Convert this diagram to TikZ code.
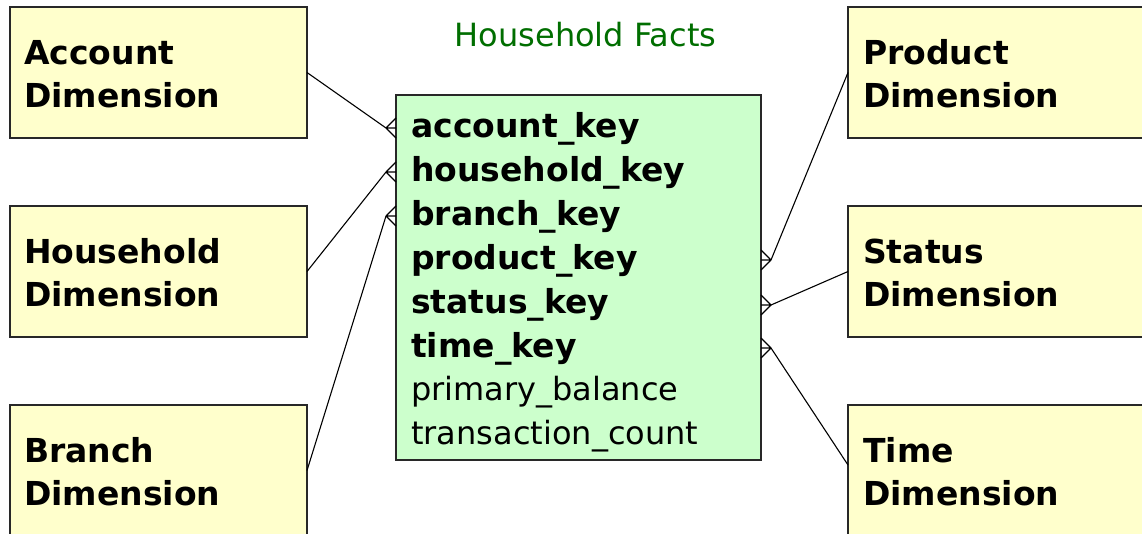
\documentclass[tikz,border=0pt]{standalone}
\usepackage{fontspec}
\setmainfont{DejaVu Sans}
\definecolor{dimfill}{RGB}{255,255,204}
\definecolor{factfill}{RGB}{204,255,204}
\definecolor{boxline}{RGB}{40,40,40}
\definecolor{titlegreen}{RGB}{0,110,0}
\tikzset{
  dimbox/.style={draw=boxline, line width=1.4pt, fill=dimfill, anchor=north west,
    minimum width=297pt, minimum height=131pt, inner sep=0pt, outer sep=0pt},
  factbox/.style={draw=boxline, line width=1.4pt, fill=factfill, anchor=north west,
    minimum width=365pt, minimum height=365pt, inner sep=0pt, outer sep=0pt},
  dimtext/.style={anchor=base west, inner sep=0pt, font=\fontsize{33}{40}\selectfont\bfseries},
  keytext/.style={anchor=base west, inner sep=0pt, font=\fontsize{33}{40}\selectfont\bfseries},
  attrtext/.style={anchor=base west, inner sep=0pt, font=\fontsize{32}{40}\selectfont},
  link/.style={draw=black, line width=1.1pt},
  foot/.style={draw=black, line width=1.3pt},
}
\begin{document}
\begin{tikzpicture}[x=1pt, y=-1pt]
\useasboundingbox (0,0) rectangle (1142,533);
\fill[white] (0,0) rectangle (1142,533);

% title
\node[anchor=base, inner sep=0pt, text=titlegreen, font=\fontsize{32}{40}\selectfont] (title) at (585.5,46) {Household Facts};

% dimension boxes
\node[dimbox] (acc) at (10,7) {};
\node[dimbox] (hh) at (10,206) {};
\node[dimbox] (br) at (10,405) {};
\node[dimbox] (prod) at (848,7) {};
\node[dimbox] (stat) at (848,206) {};
\node[dimbox] (time) at (848,405) {};

\node[dimtext] (acc1) at (24,64) {Account};
\node[dimtext] (acc2) at (24,107) {Dimension};
\node[dimtext] (hh1) at (24,263) {Household};
\node[dimtext] (hh2) at (24,306) {Dimension};
\node[dimtext] (br1) at (24,462) {Branch};
\node[dimtext] (br2) at (24,505) {Dimension};
\node[dimtext] (prod1) at (863,64) {Product};
\node[dimtext] (prod2) at (863,107) {Dimension};
\node[dimtext] (stat1) at (863,263) {Status};
\node[dimtext] (stat2) at (863,306) {Dimension};
\node[dimtext] (time1) at (863,462) {Time};
\node[dimtext] (time2) at (863,505) {Dimension};

% fact box
\node[factbox] (fact) at (396,95) {};
\node[keytext] (k1) at (411,137) {account\_key};
\node[keytext] (k2) at (411,181) {household\_key};
\node[keytext] (k3) at (411,225) {branch\_key};
\node[keytext] (k4) at (411,269) {product\_key};
\node[keytext] (k5) at (411,313) {status\_key};
\node[keytext] (k6) at (411,357) {time\_key};
\node[attrtext] (a1) at (411,400) {primary\_balance};
\node[attrtext] (a2) at (411,444) {transaction\_count};

% crow's foot points
\coordinate (fa) at (386,128);
\coordinate (fh) at (386,172);
\coordinate (fb) at (386,216);
\coordinate (fp) at (771,260);
\coordinate (fs) at (771,305);
\coordinate (ft) at (771,348);
\coordinate (tw) at (848,465);

% connectors
\draw[link] (acc.east) -- (fa);
\draw[link] (hh.east) -- (fh);
\draw[link] (br.east) -- (fb);
\draw[link] (prod.west) -- (fp);
\draw[link] (stat.west) -- (fs);
\draw[link] (tw) -- (ft);

% crow's feet left
\foreach \f in {fa,fh,fb}{
  \draw[foot] (\f) -- ++(10,-10) (\f) -- ++(10,0) (\f) -- ++(10,10);
}
% crow's feet right
\foreach \f in {fp,fs,ft}{
  \draw[foot] (\f) -- ++(-10,-10) (\f) -- ++(-10,0) (\f) -- ++(-10,10);
}
\end{tikzpicture}
\end{document}
